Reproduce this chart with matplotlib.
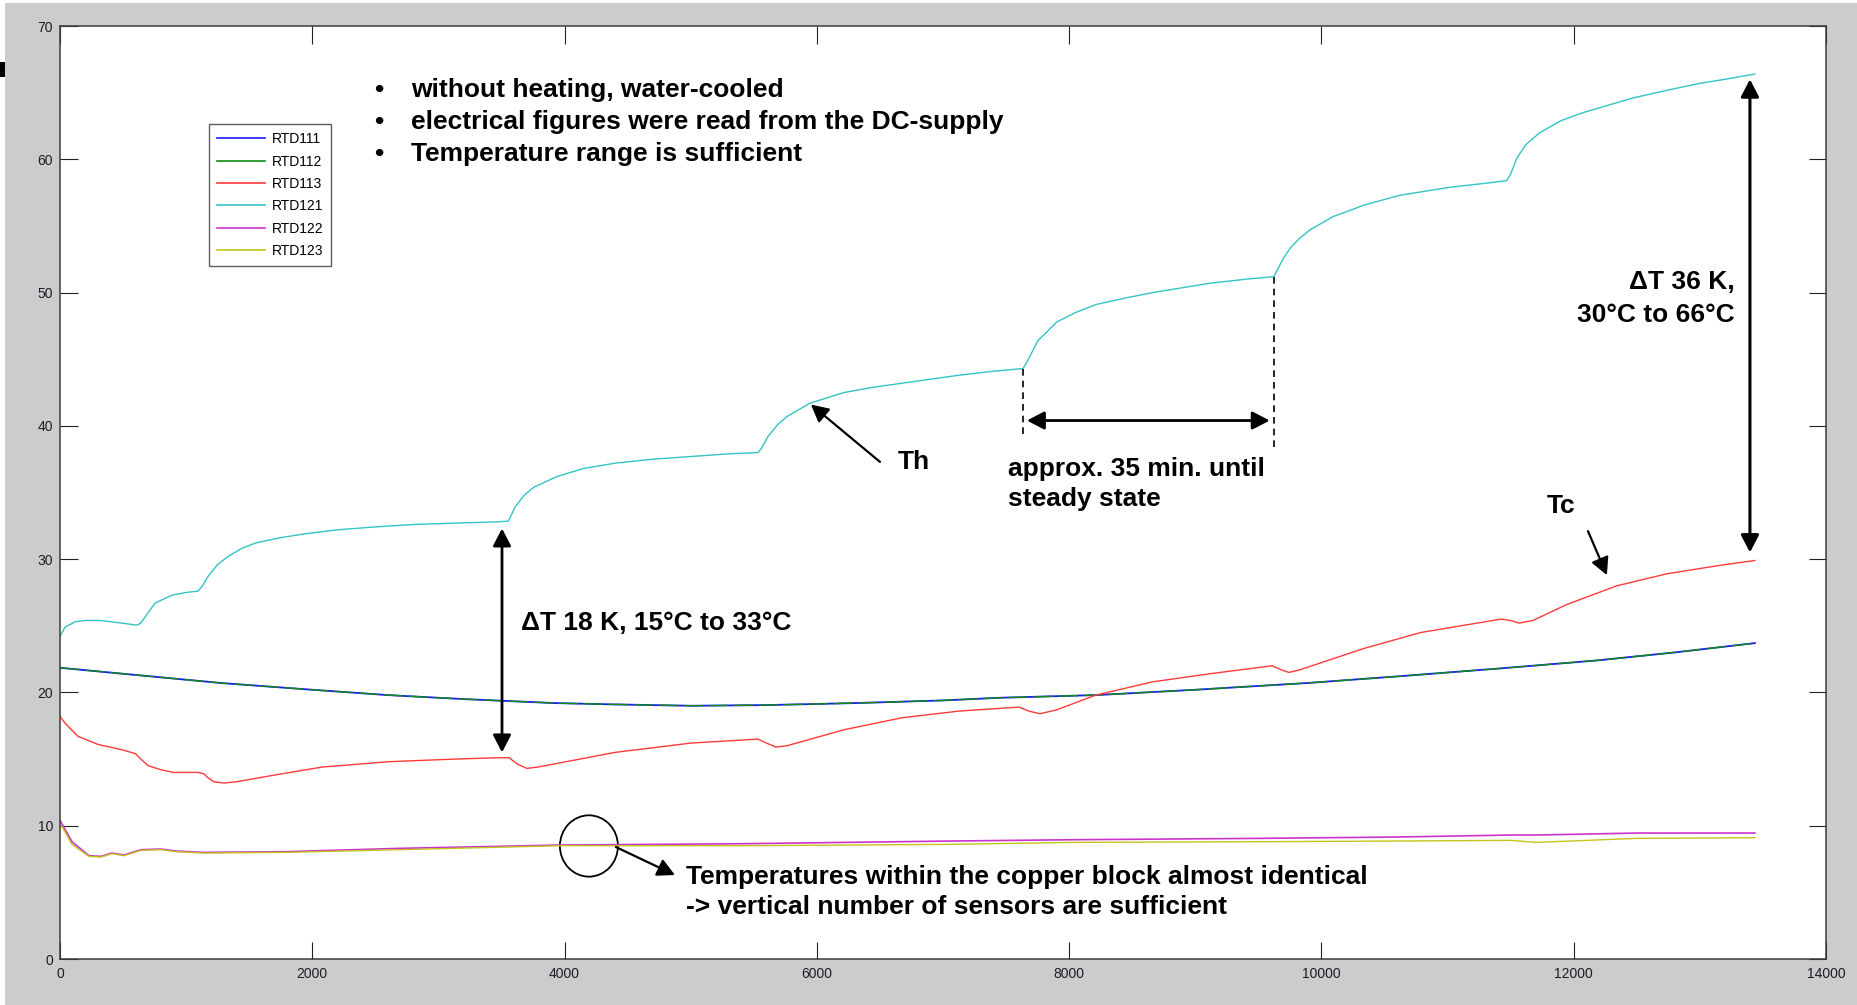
import matplotlib
matplotlib.use("Agg")
import matplotlib.pyplot as plt
from matplotlib.patches import Ellipse, Rectangle
from matplotlib.lines import Line2D

plt.rcParams['font.family'] = ['Liberation Sans', 'DejaVu Sans']

# ---- measured sensor temperatures (time in s, temperature in degC) ----
t_121 = [0, 40, 120, 200, 320, 490, 610, 640, 700, 753, 888, 1000, 1094, 1130, 1173, 1250,
         1332, 1440, 1546, 1740, 1942, 2200, 2473, 2800, 3131, 3472, 3555, 3607, 3680, 3757,
         3940, 4150, 4400, 4700, 5002, 5300, 5533, 5560, 5612, 5690, 5763, 5945, 6215, 6450,
         6675, 7127, 7400, 7634, 7660, 7753, 7903, 8050, 8212, 8450, 8664, 9116, 9400, 9624,
         9650, 9700, 9758, 9830, 9909, 10092, 10350, 10622, 11019, 11300, 11470, 11500, 11550,
         11620, 11732, 11900, 12073, 12469, 12750, 13000, 13200, 13436]
rtd121 = [24.2, 24.9, 25.3, 25.4, 25.4, 25.2, 25.05, 25.2, 26.0, 26.7, 27.3, 27.5, 27.6, 28.0,
          28.7, 29.6, 30.2, 30.8, 31.2, 31.6, 31.9, 32.2, 32.4, 32.6, 32.7, 32.8, 32.85, 33.9,
          34.8, 35.4, 36.2, 36.8, 37.2, 37.5, 37.7, 37.9, 38.0, 38.3, 39.2, 40.1, 40.7, 41.7,
          42.5, 42.9, 43.2, 43.8, 44.1, 44.3, 44.7, 46.4, 47.8, 48.5, 49.1, 49.6, 50.0, 50.7,
          51.0, 51.2, 51.7, 52.6, 53.4, 54.1, 54.7, 55.7, 56.6, 57.3, 57.9, 58.2, 58.4, 58.9,
          60.1, 61.1, 62.0, 62.9, 63.5, 64.6, 65.2, 65.7, 66.0, 66.4]

t_113 = [0, 40, 143, 301, 491, 600, 640, 700, 800, 900, 1094, 1140, 1173, 1220, 1300, 1400,
         1700, 2077, 2600, 3131, 3472, 3560, 3630, 3702, 3789, 4122, 4400, 5002, 5533, 5600,
         5676, 5763, 6215, 6675, 7127, 7603, 7680, 7769, 7903, 8212, 8664, 9116, 9608, 9680,
         9742, 9830, 10337, 10789, 11423, 11500, 11566, 11677, 11946, 12342, 12738, 13135, 13436]
rtd113 = [18.2, 17.7, 16.7, 16.1, 15.7, 15.4, 15.0, 14.5, 14.2, 14.0, 14.0, 13.9, 13.6, 13.3,
          13.2, 13.3, 13.8, 14.4, 14.8, 15.0, 15.1, 15.1, 14.6, 14.3, 14.4, 15.0, 15.5, 16.2,
          16.5, 16.2, 15.9, 16.0, 17.2, 18.1, 18.6, 18.9, 18.6, 18.4, 18.7, 19.8, 20.8, 21.4,
          22.0, 21.7, 21.5, 21.7, 23.3, 24.5, 25.5, 25.4, 25.2, 25.4, 26.6, 28.0, 28.9, 29.5, 29.9]

t_11x = [0, 500, 1284, 2000, 2600, 3200, 3924, 4400, 5000, 5600, 6300, 7000, 7451, 8212,
         9000, 9877, 10600, 11415, 12184, 12800, 13436]
rtd111 = [21.85, 21.4, 20.7, 20.2, 19.8, 19.5, 19.2, 19.1, 19.0, 19.05, 19.2, 19.4, 19.6,
          19.8, 20.2, 20.7, 21.2, 21.8, 22.4, 23.0, 23.7]
rtd112 = [21.85, 21.4, 20.7, 20.2, 19.8, 19.5, 19.2, 19.1, 19.0, 19.05, 19.2, 19.4, 19.6,
          19.8, 20.2, 20.7, 21.2, 21.8, 22.4, 23.0, 23.7]

t_12x = [0, 95, 230, 325, 412, 507, 642, 800, 920, 1142, 1784, 2687, 3963, 5422, 7055,
         8038, 9500, 10582, 11500, 11700, 12500, 13436]
rtd122 = [10.4, 8.8, 7.75, 7.7, 7.95, 7.8, 8.2, 8.25, 8.1, 8.0, 8.05, 8.3, 8.55, 8.65, 8.85,
          8.95, 9.05, 9.15, 9.3, 9.3, 9.45, 9.45]
rtd123 = [10.2, 8.6, 7.7, 7.65, 7.9, 7.75, 8.15, 8.2, 8.05, 7.95, 8.0, 8.2, 8.5, 8.5, 8.6,
          8.75, 8.8, 8.85, 8.9, 8.75, 9.05, 9.1]

labels = ['RTD111', 'RTD112', 'RTD113', 'RTD121', 'RTD122', 'RTD123']
colors = ['#1a1aff', '#118c11', '#ff3a3a', '#33c4c4', '#cc33cc', '#c4c41a']

x_ticks = [0, 2000, 4000, 6000, 8000, 10000, 12000, 14000]
y_ticks = [0, 10, 20, 30, 40, 50, 60, 70]

W, H = 1857, 1005
fig = plt.figure(figsize=(W / 100, H / 100), dpi=100, facecolor='#cccccc')

# thin white frame strips and the small dark marker at the left edge
fig.add_artist(Rectangle((0, 1 - 3 / H), 1, 3 / H, transform=fig.transFigure,
                         facecolor='white', edgecolor='none'))
fig.add_artist(Rectangle((0, 0), 5 / W, 1, transform=fig.transFigure,
                         facecolor='white', edgecolor='none'))
fig.add_artist(Rectangle((0, 1 - 77 / H), 5 / W, 15 / H, transform=fig.transFigure,
                         facecolor='black', edgecolor='none'))

ax = fig.add_axes([60 / W, 1 - 959 / H, 1766 / W, 933 / H])
ax.set_facecolor('white')

lw = 1.0
ax.plot(t_11x, rtd111, color=colors[0], lw=lw + 0.3, label=labels[0])
ax.plot(t_11x, rtd112, color=colors[1], lw=lw, dashes=(14, 4), label=labels[1])
ax.plot(t_113, rtd113, color=colors[2], lw=lw, label=labels[2])
ax.plot(t_121, rtd121, color=colors[3], lw=lw, label=labels[3])
ax.plot(t_12x, rtd122, color=colors[4], lw=lw + 0.2, label=labels[4])
ax.plot(t_12x, rtd123, color=colors[5], lw=lw, label=labels[5])

ax.set_xlim(0, 14000)
ax.set_ylim(0, 70)
ax.set_xticks(x_ticks)
ax.set_yticks(y_ticks)
ax.set_xticklabels([str(v) for v in x_ticks])
ax.set_yticklabels([str(v) for v in y_ticks])
ax.tick_params(direction='in', length=12.6, width=0.8, color='#222222',
               top=True, right=True, labelsize=10, labelcolor='#1c1c28', pad=5)
ax.tick_params(axis='x', pad=6)
for s in ax.spines.values():
    s.set_color('#3c3c3c')
    s.set_linewidth(1.1)

# legend with proxy handles so the green entry shows as a solid line
handles = [Line2D([], [], color=c, lw=1.2) for c in colors]
leg = ax.legend(handles, labels, loc='upper left',
                bbox_to_anchor=(209 / W, 1 - 124 / H), bbox_transform=fig.transFigure,
                fontsize=10, frameon=True, fancybox=False, borderaxespad=0,
                handlelength=3.4, handletextpad=0.5, labelspacing=0.6, borderpad=0.6)
leg.get_frame().set_edgecolor('#333333')
leg.get_frame().set_linewidth(1.0)

bold = dict(fontweight='bold', color='black', fontsize=19)

# bullet list
bullet_lines = ['without heating, water-cooled',
                'electrical figures were read from the DC-supply',
                'Temperature range is sufficient']
for i, line in enumerate(bullet_lines):
    yy = 65.2 - 2.4 * i
    ax.text(2528, yy, '\u2022', ha='center', va='center', **bold)
    ax.text(2782, yy, line, ha='left', va='center', **bold)

head = dict(color='black', shrinkA=0, shrinkB=0, mutation_scale=21)

# Th label
ax.text(6643, 37.3, 'Th', ha='left', va='center', **bold)
ax.annotate('', xy=(5953, 41.6), xytext=(6500, 37.3),
            arrowprops=dict(arrowstyle='-|>,head_length=0.5,head_width=0.26', lw=1.6, **head))

# settling time marker
ax.plot([7634, 7634], [44.3, 39.2], color='black', lw=1.2, ls=(0, (4, 3)))
ax.plot([9623, 9623], [51.2, 38.4], color='black', lw=1.2, ls=(0, (4, 3)))
ax.annotate('', xy=(9590, 40.4), xytext=(7665, 40.4),
            arrowprops=dict(arrowstyle='<|-|>,head_length=0.5,head_width=0.26', lw=2.0, **head))
ax.text(7515, 36.8, 'approx. 35 min. until', ha='left', va='center', **bold)
ax.text(7515, 34.5, 'steady state', ha='left', va='center', **bold)

# Tc label
ax.text(11787, 34.0, 'Tc', ha='left', va='center', **bold)
ax.annotate('', xy=(12263, 28.8), xytext=(12113, 32.1),
            arrowprops=dict(arrowstyle='-|>,head_length=0.5,head_width=0.26', lw=1.6, **head))

# temperature difference at the last step
ax.annotate('', xy=(13397, 66.0), xytext=(13397, 30.5),
            arrowprops=dict(arrowstyle='<|-|>,head_length=0.5,head_width=0.26', lw=2.2, **head))
ax.text(13278, 50.8, '\u0394T 36 K,', ha='right', va='center', **bold)
ax.text(13278, 48.3, '30\u00b0C to 66\u00b0C', ha='right', va='center', **bold)

# temperature difference at the first step
ax.annotate('', xy=(3504, 32.3), xytext=(3504, 15.5),
            arrowprops=dict(arrowstyle='<|-|>,head_length=0.5,head_width=0.26', lw=2.0, **head))
ax.text(3654, 25.2, '\u0394T 18 K, 15\u00b0C to 33\u00b0C', ha='left', va='center', **bold)

# copper block sensors
ax.add_patch(Ellipse((4193, 8.48), 460, 4.6, fill=False, edgecolor='black', lw=1.3))
ax.annotate('', xy=(4875, 6.3), xytext=(4407, 8.4),
            arrowprops=dict(arrowstyle='-|>,head_length=0.5,head_width=0.26', lw=1.6, **head))
ax.text(4962, 6.15, 'Temperatures within the copper block almost identical',
        ha='left', va='center', **bold)
ax.text(4962, 3.9, '-> vertical number of sensors are sufficient',
        ha='left', va='center', **bold)

fig.savefig('out.png', dpi=100, facecolor=fig.get_facecolor())
